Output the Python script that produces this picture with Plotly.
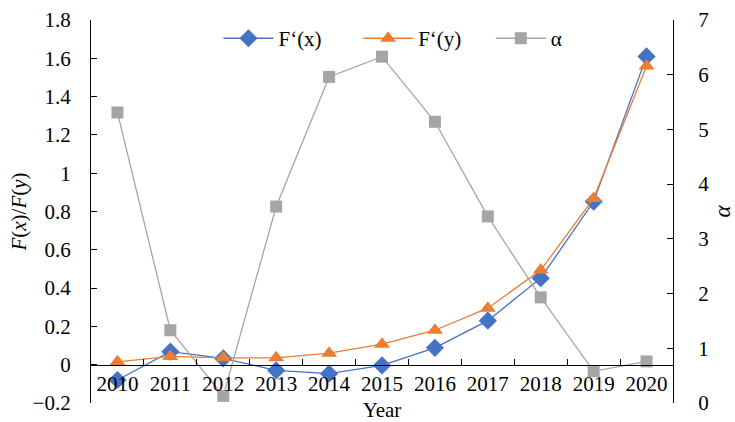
import plotly.graph_objects as go

years = ["2010", "2011", "2012", "2013", "2014", "2015", "2016", "2017", "2018", "2019", "2020"]
fx = [-0.08, 0.068, 0.033, -0.03, -0.047, -0.004, 0.088, 0.23, 0.452, 0.852, 1.61]
fy = [0.015, 0.043, 0.036, 0.036, 0.06, 0.107, 0.18, 0.295, 0.494, 0.868, 1.56]
alpha = [5.31, 1.33, 0.13, 3.59, 5.96, 6.33, 5.14, 3.41, 1.93, 0.58, 0.76]

FONT = "Times New Roman, Liberation Serif, DejaVu Serif, serif"
BLUE = "#4472C4"
ORANGE = "#ED7D31"
GRAY = "#A5A5A5"

fig = go.Figure()
fig.add_trace(go.Scatter(x=years, y=fx, name="F‘(x)", mode="lines+markers", legend="legend",
                         line=dict(color=BLUE, width=1.3),
                         marker=dict(symbol="diamond", size=14, color=BLUE)))
fig.add_trace(go.Scatter(x=years, y=fy, name="F‘(y)", mode="lines+markers", legend="legend2",
                         line=dict(color=ORANGE, width=1.3),
                         marker=dict(symbol="triangle-up", size=14, color=ORANGE)))
fig.add_trace(go.Scatter(x=years, y=alpha, name="α", mode="lines+markers", yaxis="y2", legend="legend3",
                         line=dict(color=GRAY, width=1.3),
                         marker=dict(symbol="square", size=12, color=GRAY)))

leg_common = dict(orientation="h", y=1.005, xanchor="left", yanchor="top",
                  font=dict(family=FONT, size=21), itemwidth=50,
                  bgcolor="rgba(0,0,0,0)")

fig.update_layout(
    width=735, height=422,
    margin=dict(l=91, r=62, t=20, b=19, autoexpand=False),
    plot_bgcolor="white", paper_bgcolor="white",
    font=dict(family=FONT, size=21, color="black"),
    showlegend=True,
    legend=dict(x=0.219, **leg_common),
    legend2=dict(x=0.459, **leg_common),
    legend3=dict(x=0.687, **leg_common),
    xaxis=dict(type="category", range=[-0.5, 10.5], anchor="free", position=0.1,
               showline=True, linecolor="black", linewidth=1.3,
               ticks="inside", tickson="boundaries", ticklen=6, tickcolor="black",
               showgrid=False, zeroline=False, tickangle=0,
               tickfont=dict(family=FONT, size=21),
               title=dict(text="Year", font=dict(family=FONT, size=21), standoff=16)),
    yaxis=dict(range=[-0.2, 1.8], dtick=0.2, tickformat="~g",
               showline=True, linecolor="black", linewidth=1.3,
               ticks="inside", ticklen=6, tickcolor="black",
               showgrid=False, zeroline=False, ticklabelstandoff=15,
               tickfont=dict(family=FONT, size=21),
               title=dict(text="<i>F</i>(<i>x</i>)/<i>F</i>(<i>y</i>)",
                          font=dict(family=FONT, size=21), standoff=0)),
    yaxis2=dict(range=[0, 7], dtick=1, overlaying="y", side="right", anchor="x",
                showline=True, linecolor="black", linewidth=1.3,
                ticks="inside", ticklen=6, tickcolor="black",
                showgrid=False, zeroline=False, ticklabelstandoff=20,
                tickfont=dict(family=FONT, size=21),
                title=dict(text="<i>α</i>", font=dict(family=FONT, size=23), standoff=27)),
)

fig.write_html("out.html", config={"displayModeBar": False},
               post_script="document.body.style.margin='0';")
